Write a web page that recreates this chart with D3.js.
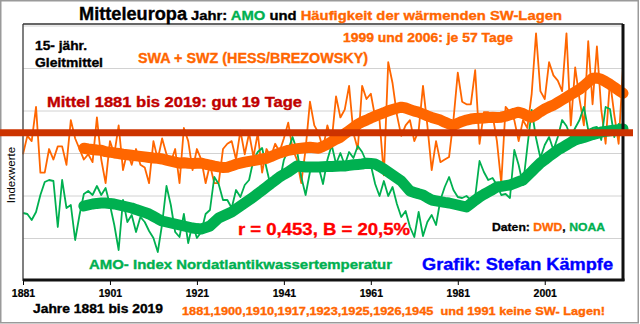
<!DOCTYPE html>
<html><head><meta charset="utf-8">
<script src="https://cdn.jsdelivr.net/npm/d3@7"></script>
<style>
html,body{margin:0;padding:0;background:#fff;}
svg{display:block;font-family:"Liberation Sans",Arial,sans-serif;}
</style>
</head><body>
<svg id="c" width="640" height="324"></svg>
<script>
// ---------------- DATA ----------------
const firstYear = 1881, lastYear = 2019, smoothStart = 1895;
const years = d3.range(firstYear, lastYear + 1);
const smoothYears = d3.range(smoothStart, lastYear + 1);

// Days per year with SW weather types (SWA + SWZ)
const swDays = [
  11,18,16,29,4,4,13,9,14,14,
  7,24,17,13,9,11,8,25,9,0,
  16,11,22,5,12,7,13,7,6,0,
  16,9,17,11,8,13,0,21,16,5,
  13,9,0,7,0,0,13,15,16,9,
  20,11,19,10,19,4,13,10,15,12,
  17,23,13,9,0,13,31,22,19,13,
  22,16,33,25,28,37,19,13,37,32,
  34,25,24,3,46,38,26,18,22,24,
  16,20,37,22,5,16,8,9,10,24,
  42,31,30,30,43,15,27,27,26,16,
  0,29,27,24,16,24,21,34,57,35,
  32,46,41,39,35,57,22,44,32,22,
  54,30,52,28,15,39,26,15,44
];
// AMO index (annual)
const amoIndex = [
  -0.165,-0.17,-0.20,-0.16,-0.075,-0.01,0.0,-0.005,-0.235,0.0,
  -0.14,-0.125,-0.30,-0.175,-0.07,-0.055,-0.075,-0.03,-0.075,-0.04,
  -0.125,-0.225,-0.35,-0.10,-0.21,-0.175,-0.26,-0.185,-0.21,-0.255,
  -0.29,-0.36,-0.22,-0.03,-0.125,-0.26,-0.285,-0.17,-0.315,-0.22,
  -0.29,-0.26,-0.17,-0.15,0.015,-0.02,-0.10,-0.10,-0.14,-0.05,
  -0.085,-0.025,0.0,0.10,0.14,0.16,0.06,-0.035,0.01,-0.01,
  0.10,0.15,0.215,0.15,0.015,-0.075,0.04,0.08,0.065,-0.02,
  0.10,0.175,0.08,0.135,0.075,0.14,0.11,0.17,0.14,0.09,
  0.075,-0.02,-0.08,-0.005,-0.08,-0.035,-0.12,-0.185,-0.155,-0.235,
  -0.285,-0.16,-0.28,-0.21,-0.175,-0.225,-0.10,-0.035,0.015,-0.05,
  -0.085,-0.09,-0.08,-0.10,-0.085,0.095,0.04,0.0,0.01,-0.025,
  -0.075,-0.07,-0.09,0.15,0.075,-0.025,0.165,0.35,0.21,0.11,
  0.175,0.215,0.15,0.215,0.30,0.27,0.215,0.26,0.30,0.365,
  0.25,0.26,0.265,0.20,0.365,0.355,0.215,0.28,0.265
];
// 15-year running means (1895-2019)
const swSmooth = [
  13.3,13.0,12.8,12.6,12.5,12.0,11.8,11.5,11.3,11.0,
  10.8,10.6,10.4,10.2,10.0,9.8,9.6,9.5,9.2,8.8,
  8.4,8.0,7.6,7.8,7.6,7.5,7.6,7.6,7.2,6.9,
  6.5,6.2,6.0,6.1,6.6,7.2,7.6,8.0,8.3,8.6,
  8.9,9.2,9.5,10.1,10.8,11.5,12.0,12.5,12.8,13.1,
  13.3,13.5,13.7,13.5,13.3,14.0,14.8,15.8,16.7,17.5,
  18.8,20.0,21.2,22.4,23.3,24.0,24.8,25.5,26.2,26.8,
  27.5,28.0,28.5,28.9,28.6,28.0,27.4,27.0,26.3,25.6,
  25.0,24.5,24.0,23.2,22.5,22.0,22.8,23.5,24.0,24.4,
  24.6,24.7,24.8,25.0,25.1,25.0,25.1,25.5,26.0,26.6,
  27.0,26.5,25.6,25.1,26.0,27.2,28.2,29.0,29.7,30.7,
  31.7,32.7,33.7,34.7,35.7,37.0,38.5,39.9,40.0,39.5,
  38.6,37.6,36.5,35.3,34.2
];
const amoSmooth = [
  -0.130,-0.125,-0.120,-0.117,-0.115,-0.115,-0.118,-0.120,-0.125,-0.130,
  -0.135,-0.140,-0.148,-0.155,-0.162,-0.170,-0.182,-0.194,-0.205,-0.210,
  -0.215,-0.220,-0.225,-0.230,-0.235,-0.240,-0.243,-0.245,-0.238,-0.230,
  -0.210,-0.190,-0.180,-0.170,-0.160,-0.145,-0.130,-0.115,-0.100,-0.085,
  -0.068,-0.052,-0.035,-0.018,-0.002,0.015,0.028,0.040,0.055,0.070,
  0.068,0.065,0.065,0.065,0.065,0.066,0.067,0.068,0.069,0.070,
  0.070,0.073,0.076,0.078,0.080,0.084,0.082,0.080,0.068,0.055,
  0.040,0.025,0.010,-0.005,-0.030,-0.055,-0.062,-0.069,-0.075,-0.088,
  -0.100,-0.104,-0.108,-0.112,-0.115,-0.120,-0.125,-0.130,-0.135,-0.118,
  -0.101,-0.085,-0.072,-0.060,-0.048,-0.035,-0.032,-0.028,-0.025,-0.017,
  -0.008,0.000,0.021,0.042,0.064,0.085,0.101,0.118,0.134,0.150,
  0.162,0.175,0.188,0.200,0.207,0.213,0.220,0.227,0.233,0.240,
  0.243,0.246,0.249,0.252,0.255
];
const meanDays = 19.2;
const xTicks = [1881, 1901, 1921, 1941, 1961, 1981, 2001];
const gridLevels = [1, 2, 3, 4, 5, 6];

// ---------------- LAYOUT ----------------
const W = 640, H = 324;
const L = 23, R = 623, T = 24, B = 281;
const ORANGE = "#FF6600", GREEN = "#00B050", RED = "#CC3300";

const svg = d3.select("#c");
svg.append("rect").attr("x",0).attr("y",0).attr("width",W).attr("height",H).attr("fill","#fff");
svg.append("rect").attr("x",0.75).attr("y",0.75).attr("width",637.5).attr("height",322)
  .attr("fill","none").attr("stroke","#9a9a9a").attr("stroke-width",1.5);

const x = d3.scaleLinear().domain([firstYear, lastYear]).range([L, R]);
const ySW = d3.scaleLinear().domain([0, 57]).range([183.2, 33.3]);
const yAMO = d3.scaleLinear().domain([-0.5, 0.5]).range([280, 80]);
const yIdx = d3.scaleLinear().domain([0, 6]).range([B, 26]);

// gridlines
svg.append("g").selectAll("line").data(gridLevels).join("line")
  .attr("x1", L).attr("x2", R).attr("y1", d => yIdx(d)).attr("y2", d => yIdx(d))
  .attr("stroke", "#d2d2d2").attr("stroke-width", 1);

// x axis
const ax = svg.append("g").attr("transform", `translate(0,${B})`)
  .call(d3.axisBottom(x).tickValues(xTicks).tickFormat(d3.format("d")).tickSize(4).tickPadding(5));
ax.select(".domain").remove();
ax.selectAll(".tick line").attr("stroke", "#000");
ax.selectAll(".tick text").attr("font-size", 10.5).attr("font-weight", "bold")
  .attr("font-family", "Liberation Sans, Arial, sans-serif").attr("fill", "#000")
  .attr("stroke", "#000").attr("stroke-width", 0.2);

// lines
const line = (xs, ys, yScale) => d3.line().x((d, i) => x(xs[i])).y(d => yScale(d));
svg.append("path").datum(swDays).attr("d", line(years, swDays, ySW))
  .attr("fill","none").attr("stroke", ORANGE).attr("stroke-width", 1.8).attr("stroke-linejoin","round");
svg.append("path").datum(amoIndex).attr("d", line(years, amoIndex, yAMO))
  .attr("fill","none").attr("stroke", GREEN).attr("stroke-width", 1.8).attr("stroke-linejoin","round");
svg.append("path").datum(amoSmooth).attr("d", line(smoothYears, amoSmooth, yAMO))
  .attr("fill","none").attr("stroke", GREEN).attr("stroke-width", 11)
  .attr("stroke-linejoin","round").attr("stroke-linecap","round");
svg.append("path").datum(swSmooth).attr("d", line(smoothYears, swSmooth, ySW))
  .attr("fill","none").attr("stroke", ORANGE).attr("stroke-width", 11)
  .attr("stroke-linejoin","round").attr("stroke-linecap","round");

// plot frame
svg.append("line").attr("x1",L).attr("x2",L).attr("y1",T).attr("y2",B).attr("stroke","#555").attr("stroke-width",1.5);
svg.append("line").attr("x1",L).attr("x2",R).attr("y1",T).attr("y2",T).attr("stroke","#333").attr("stroke-width",1.5);
svg.append("line").attr("x1",R).attr("x2",R).attr("y1",T).attr("y2",B).attr("stroke","#111").attr("stroke-width",3);
svg.append("line").attr("x1",L).attr("x2",R+1.5).attr("y1",B-1).attr("y2",B-1).attr("stroke","#111").attr("stroke-width",3);

// mean line
svg.append("line").attr("x1", 0).attr("x2", R + 10)
  .attr("y1", ySW(meanDays)).attr("y2", ySW(meanDays))
  .attr("stroke", RED).attr("stroke-width", 7);

// texts
function txt(s, px, py, size, len, fill, weight) {
  const c = fill || "#000";
  const t = svg.append("text").attr("x", px).attr("y", py)
    .attr("font-size", size).attr("font-weight", weight || "bold").attr("fill", c)
    .attr("stroke", c).attr("stroke-width", 0.35).text(s);
  if (len) t.attr("textLength", len).attr("lengthAdjust", "spacingAndGlyphs");
  return t;
}
txt("Mitteleuropa", 79, 19.5, 18, 108);
const t2 = svg.append("text").attr("x", 191).attr("y", 19.5).attr("font-size", 13.5)
  .attr("font-weight","bold").attr("textLength", 371).attr("lengthAdjust","spacingAndGlyphs")
  .attr("stroke-width", 0.35).style("white-space","pre");
t2.append("tspan").attr("fill","#000").attr("stroke","#000").text("Jahr: ");
t2.append("tspan").attr("fill",GREEN).attr("stroke",GREEN).text("AMO");
t2.append("tspan").attr("fill","#000").attr("stroke","#000").text(" und ");
t2.append("tspan").attr("fill",ORANGE).attr("stroke",ORANGE).text("Häufigkeit der wärmenden SW-Lagen");

txt("15- jähr.", 35, 50, 13, 52);
txt("Gleitmittel", 35, 66.5, 13, 68);
txt("SWA + SWZ (HESS/BREZOWSKY)", 138, 62.5, 14, 230, ORANGE);
txt("1999 und 2006: je 57 Tage", 343, 42, 12.5, 170, ORANGE);
txt("Mittel 1881 bis 2019: gut 19 Tage", 47, 106.5, 14, 255, "#C00000");
txt("r = 0,453, B = 20,5%", 238, 235, 16.5, 172, "#FF0000");
const t3 = svg.append("text").attr("x", 492).attr("y", 230.5).attr("font-size", 11)
  .attr("font-weight","bold").attr("textLength", 113).attr("lengthAdjust","spacingAndGlyphs")
  .attr("stroke-width", 0.3).style("white-space","pre");
t3.append("tspan").attr("fill","#000").attr("stroke","#000").text("Daten: ");
t3.append("tspan").attr("fill",ORANGE).attr("stroke",ORANGE).text("DWD");
t3.append("tspan").attr("fill","#000").attr("stroke","#000").text(", ");
t3.append("tspan").attr("fill",GREEN).attr("stroke",GREEN).text("NOAA");
txt("AMO- Index Nordatlantikwassertemperatur", 89, 269, 13, 303, GREEN);
txt("Grafik: Stefan Kämpfe", 422, 269.5, 16, 191, "#0000FF");
txt("Jahre 1881 bis 2019", 33, 313, 12.5, 130);
txt("1881,1900,1910,1917,1923,1925,1926,1945  und 1991 keine SW- Lagen!", 182, 315, 11, 423, ORANGE)
  .style("white-space","pre");
svg.append("text").attr("transform","translate(15,175) rotate(-90)")
  .attr("text-anchor","middle").attr("font-size", 11.5).attr("fill","#000").text("Indexwerte");
</script>
</body></html>
